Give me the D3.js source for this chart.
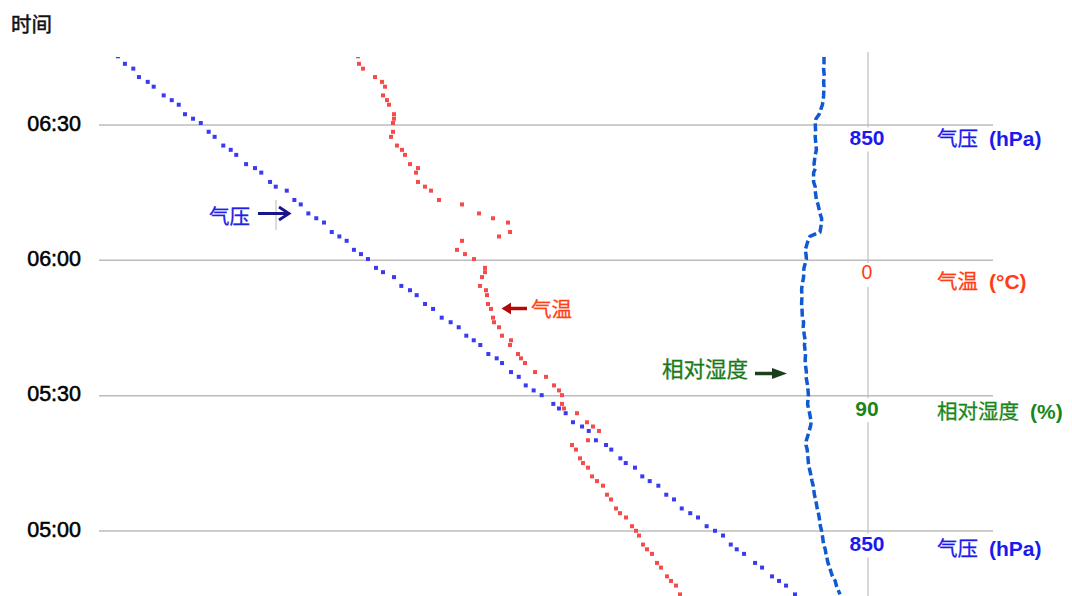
<!DOCTYPE html>
<html>
<head>
<meta charset="utf-8">
<script src="https://cdn.jsdelivr.net/npm/d3@7"></script>
<style>
  html, body { margin: 0; padding: 0; background: #fff; }
  svg { display: block; font-family: "Liberation Sans", "Noto Sans CJK SC", sans-serif; }
</style>
</head>
<body>
<svg id="chart" width="1072" height="596"></svg>
<script>
// Sounding samples: clock time of each observation
const times = [
  "06:45:07","06:43:27","06:42:23","06:40:31","06:39:27","06:38:23","06:36:27","06:35:24","06:34:23","06:32:17",
  "06:31:17","06:30:20","06:28:23","06:27:16","06:25:20","06:24:23","06:23:16","06:21:13","06:20:20","06:19:20",
  "06:17:16","06:16:13","06:15:20","06:13:16","06:12:17","06:10:17","06:09:13","06:08:16","06:06:10","06:05:11",
  "06:04:13","06:02:13","06:01:16","06:00:10","05:58:13","05:57:16","05:56:10","05:54:13","05:53:16","05:52:10",
  "05:50:13","05:49:07","05:47:11","05:46:10","05:45:03","05:43:11","05:42:10","05:41:07","05:39:07","05:38:10",
  "05:37:07","05:35:07","05:34:04","05:32:10","05:31:03","05:30:00","05:28:04","05:27:03","05:26:00","05:24:00",
  "05:23:03","05:22:04","05:20:00","05:18:57","05:17:56","05:16:00","05:14:57","05:13:56","05:12:00","05:10:57",
  "05:09:56","05:07:56","05:06:53","05:04:53","05:03:50","05:02:53","05:00:57","04:59:56","04:58:53","04:56:53",
  "04:55:50","04:54:49","04:52:49","04:51:47","04:49:50","04:48:49","04:47:47","04:45:50"
];

// 气压 (hPa)
const pressure = [
  346.6, 351.3, 356.9, 360.7, 366.6, 370.6, 377.3, 382.7, 387.4, 391.6,
  397.0, 402.2, 407.5, 411.5, 417.3, 422.3, 426.0, 432.6, 438.6, 442.8,
  448.7, 452.5, 459.9, 465.0, 469.3, 474.4, 479.7, 484.9, 490.1, 495.2,
  500.1, 505.0, 509.7, 514.4, 519.8, 524.5, 531.9, 536.8, 542.6, 547.1,
  552.7, 558.1, 563.9, 569.9, 575.3, 580.4, 585.4, 589.8, 595.2, 600.8,
  604.4, 610.4, 615.6, 620.3, 625.6, 631.0, 638.8, 642.6, 647.1, 652.0,
  658.1, 662.6, 667.4, 674.2, 677.7, 683.8, 687.4, 693.6, 698.5, 703.5,
  709.3, 714.6, 719.8, 725.0, 730.7, 735.9, 741.7, 747.3, 752.7, 757.9,
  761.9, 766.8, 774.2, 778.9, 785.6, 790.3, 795.0, 801.0
];

// 气温 (°C)
const temperature = [
  -51.0, -50.9, -50.5, -49.3, -48.6, -48.3, -48.5, -48.1, -47.9, -47.4,
  -47.4, -47.5, -47.5, -47.7, -47.1, -46.6, -46.3, -45.8, -45.0, -45.2,
  -45.0, -44.3, -43.7, -42.9, -40.6, -38.9, -37.5, -36.0, -35.8, -36.9,
  -40.6, -41.1, -40.3, -39.4, -38.3, -38.3, -38.6, -38.8, -38.2, -38.1,
  -38.0, -37.7, -37.5, -37.4, -36.9, -36.6, -35.7, -35.8, -35.0, -34.7,
  -34.3, -33.3, -32.2, -31.4, -30.9, -30.6, -30.6, -30.4, -29.1, -28.1,
  -27.5, -26.9, -28.0, -29.6, -29.2, -28.8, -28.5, -28.0, -27.6, -27.1,
  -26.5, -26.1, -25.7, -25.2, -24.8, -24.2, -23.6, -23.2, -22.9, -22.5,
  -22.1, -21.6, -21.1, -20.7, -20.1, -19.7, -19.2, -18.8
];

// 相对湿度 (%)
const humidity = [
  79.0, 79.0, 78.9, 79.1, 78.9, 79.0, 78.9, 78.8, 78.6, 77.8,
  77.0, 76.8, 76.9, 76.8, 77.0, 77.1, 76.8, 76.5, 76.9, 76.4,
  76.4, 76.8, 76.8, 77.1, 77.5, 78.0, 78.4, 78.4, 78.0, 75.5,
  75.0, 74.3, 74.5, 74.6, 74.0, 73.9, 73.9, 73.5, 73.4, 73.5,
  73.4, 73.5, 73.6, 73.9, 73.8, 74.1, 74.3, 74.1, 74.4, 74.3,
  74.3, 74.6, 74.5, 74.9, 75.0, 75.1, 74.9, 75.1, 75.4, 75.8,
  75.6, 75.3, 74.6, 74.5, 74.8, 75.0, 75.1, 75.3, 75.8, 76.0,
  76.3, 76.6, 76.9, 77.3, 77.6, 77.8, 78.1, 78.4, 78.6, 78.9,
  79.3, 79.5, 80.0, 80.4, 81.1, 81.8, 82.1, 83.0
];

// Time axis ticks
const timeTicks = ["05:00", "05:30", "06:00", "06:30"];

// Reference marks on the vertical guide line
const refTimes  = ["06:30", "06:00", "05:30", "05:00"];
const refValues = [850, 0, 90, 850];
const refSeries = ["pressure", "temperature", "humidity", "pressure"];
const refNames  = ["气压", "气温", "相对湿度", "气压"];
const refUnits  = ["(hPa)", "(°C)", "(%)", "(hPa)"];

const textColor = { pressure: "#1a1aee", temperature: "#ff3c14", humidity: "#1a861a" };
const cjk = "'Noto Sans CJK SC', sans-serif";

const svg = d3.select("#chart");
const parseTime = d3.timeParse("%H:%M:%S");
const parseTick = d3.timeParse("%H:%M");

const y = d3.scaleTime()
  .domain([parseTick("05:00"), parseTick("06:30")])
  .range([530.5, 124.5]);

const xP = d3.scaleLinear().domain([350, 850]).range([123, 868]);
const xT = d3.scaleLinear().domain([-50, 0]).range([368, 868]);
const xH = d3.scaleLinear().domain([80, 90]).range([828, 868]);
const scaleFor = { pressure: xP, temperature: xT, humidity: xH };

const samples = times.map((t, i) => ({
  t: parseTime(t), p: pressure[i], temp: temperature[i], rh: humidity[i]
}));

// Title of the time axis
svg.append("text")
  .attr("x", 11).attr("y", 32)
  .attr("font-family", cjk)
  .attr("font-size", 20.5).attr("fill", "#111")
  .attr("stroke", "#111").attr("stroke-width", 0.5)
  .text("时间");

// Vertical guide line (850 hPa / 0 °C / 90 %)
const guideX = xP(850);
svg.append("line")
  .attr("x1", guideX).attr("x2", guideX)
  .attr("y1", 52).attr("y2", 596)
  .attr("stroke", "#d8d8d8").attr("stroke-width", 2);

// Time axis with horizontal grid lines
const axis = svg.append("g")
  .attr("transform", "translate(99,0)")
  .call(d3.axisLeft(y)
    .tickValues(timeTicks.map(parseTick))
    .tickFormat(d3.timeFormat("%H:%M"))
    .tickSize(-894)
    .tickPadding(18));
axis.select(".domain").remove();
axis.selectAll(".tick line").attr("stroke", "#bcbcbc").attr("stroke-width", 1.5);
axis.selectAll(".tick text")
  .attr("fill", "#000")
  .attr("stroke", "#000").attr("stroke-width", 0.55)
  .attr("font-size", 21.5)
  .attr("font-family", "'Liberation Sans', sans-serif")
  .attr("dy", "0.27em");

// Plot clip
svg.append("defs").append("clipPath").attr("id", "plotClip")
  .append("rect").attr("x", 0).attr("y", 57).attr("width", 1072).attr("height", 540);
const plot = svg.append("g").attr("clip-path", "url(#plotClip)");

// 相对湿度: dashed line
plot.append("path")
  .datum(samples)
  .attr("fill", "none")
  .attr("stroke", "#0f5ad2")
  .attr("stroke-width", 3.5)
  .attr("stroke-dasharray", "8,3.5")
  .attr("d", d3.line().x(d => xH(d.rh)).y(d => y(d.t)));

// 气温: square markers
const m = 4;
plot.append("g").selectAll("rect")
  .data(samples).join("rect")
  .attr("x", d => xT(d.temp) - m / 2)
  .attr("y", d => y(d.t) - m / 2)
  .attr("width", m).attr("height", m)
  .attr("fill", "#f74a4a");

// 气压: square markers
plot.append("g").selectAll("rect")
  .data(samples).join("rect")
  .attr("x", d => xP(d.p) - m / 2)
  .attr("y", d => y(d.t) - m / 2)
  .attr("width", m).attr("height", m)
  .attr("fill", "#3a3af2");

// Reference values and units at the right
const unitDy = [21.5, 29, 24, 25.5];
refTimes.forEach((rt, i) => {
  const ty = y(parseTick(rt));
  const series = refSeries[i];
  const sx = scaleFor[series];
  const col = textColor[series];
  const vx = sx(refValues[i]);
  const isSmall = refValues[i] === 0;
  svg.append("rect")
    .attr("x", vx - 21).attr("y", ty + 3)
    .attr("width", 42).attr("height", 24)
    .attr("fill", "#fff");
  svg.append("text")
    .attr("x", vx - 1).attr("y", ty + (isSmall ? 19 : 20.5))
    .attr("text-anchor", "middle")
    .attr("font-size", isSmall ? 19.5 : 21)
    .attr("font-weight", isSmall ? 400 : 700)
    .attr("fill", col)
    .text(refValues[i]);
  const t = svg.append("text")
    .attr("x", 937).attr("y", ty + unitDy[i])
    .attr("fill", col);
  t.append("tspan")
    .attr("font-family", cjk)
    .attr("font-size", 20.5)
    .attr("stroke", col).attr("stroke-width", 0.3)
    .text(refNames[i]);
  t.append("tspan")
    .attr("dx", 11)
    .attr("font-size", 21)
    .attr("font-weight", 700)
    .text(refUnits[i]);
});

// Annotation: 气压 →
svg.append("text")
  .attr("x", 209).attr("y", 223.5)
  .attr("font-family", cjk)
  .attr("font-size", 20.5).attr("fill", "#2020e6")
  .attr("stroke", "#2020e6").attr("stroke-width", 0.3)
  .text("气压");
svg.append("line")
  .attr("x1", 276).attr("x2", 276).attr("y1", 200).attr("y2", 230)
  .attr("stroke", "#b8b8b8").attr("stroke-width", 1);
svg.append("line")
  .attr("x1", 258).attr("x2", 288).attr("y1", 213.5).attr("y2", 213.5)
  .attr("stroke", "#16168a").attr("stroke-width", 3);
svg.append("path")
  .attr("d", "M279,207 L289,213.5 L279,220")
  .attr("fill", "none").attr("stroke", "#16168a").attr("stroke-width", 2.8);

// Annotation: ← 气温
svg.append("line")
  .attr("x1", 507).attr("x2", 527).attr("y1", 308.5).attr("y2", 308.5)
  .attr("stroke", "#b00a0a").attr("stroke-width", 3.5);
svg.append("path")
  .attr("d", "M501.5,308.5 L511,302.5 L511,314.5 Z")
  .attr("fill", "#b00a0a");
svg.append("text")
  .attr("x", 531).attr("y", 316.5)
  .attr("font-family", cjk)
  .attr("font-size", 20.5).attr("fill", "#ff4216")
  .attr("stroke", "#ff4216").attr("stroke-width", 0.3)
  .text("气温");

// Annotation: 相对湿度 →
svg.append("text")
  .attr("x", 662).attr("y", 377)
  .attr("font-family", cjk)
  .attr("font-size", 21.5).attr("fill", "#1a7a1a")
  .attr("stroke", "#1a7a1a").attr("stroke-width", 0.3)
  .text("相对湿度");
svg.append("line")
  .attr("x1", 755).attr("x2", 778).attr("y1", 373.5).attr("y2", 373.5)
  .attr("stroke", "#1c3f1c").attr("stroke-width", 3.5);
svg.append("path")
  .attr("d", "M787,373.5 L772,368 L772,379 Z")
  .attr("fill", "#1c3f1c");
</script>
</body>
</html>
